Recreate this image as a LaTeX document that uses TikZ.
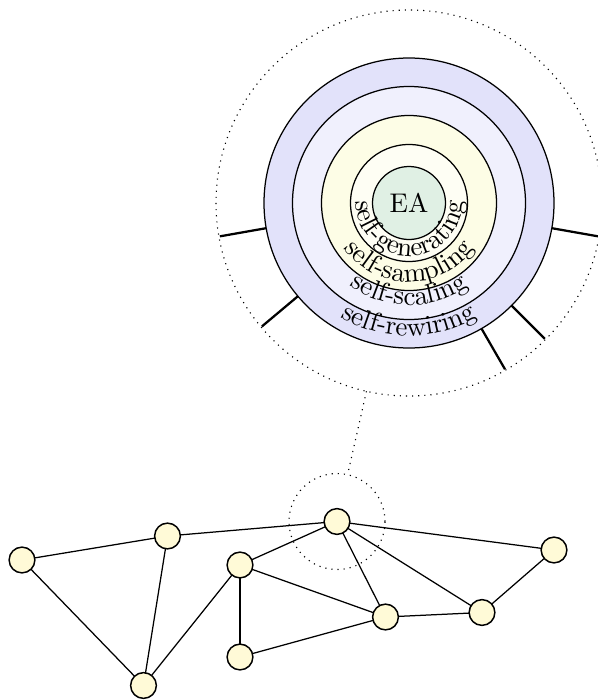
\documentclass[tikz,border=0pt]{standalone}
\usetikzlibrary{decorations.text,calc}
\definecolor{ringA}{RGB}{226,226,250}
\definecolor{ringB}{RGB}{240,240,253}
\definecolor{ringC}{RGB}{253,253,230}
\definecolor{ringD}{RGB}{254,254,244}
\definecolor{coreC}{RGB}{224,240,228}
\definecolor{nodeC}{RGB}{255,250,215}
\tikzset{
  ring/.style={circle,draw,line width=0.5pt,inner sep=0pt,outer sep=0pt},
  vertex/.style={circle,draw,line width=0.6pt,fill=nodeC,inner sep=0pt,outer sep=0pt,minimum size=10.3pt},
  edge/.style={line width=0.5pt},
  spoke/.style={line width=0.9pt},
  zoomring/.style={circle,draw,dotted,line width=0.45pt,inner sep=0pt,outer sep=0pt},
  arctext/.style={decorate,decoration={text along path,text align=center,text={#1}}}
}
\begin{document}
\fontsize{10.8pt}{13pt}\selectfont
\begin{tikzpicture}[x=0.4pt,y=0.4pt]
\useasboundingbox (0,0) rectangle (598,-700);
\coordinate (c) at (409,-203);
% zoom outline
\node[zoomring,minimum size=154.4pt] (zoom) at (c) {};
% concentric rings
\node[ring,fill=ringA,minimum size=116pt] (r5) at (c) {};
\node[ring,fill=ringB,minimum size=93.2pt] (r4) at (c) {};
\node[ring,fill=ringC,minimum size=70pt] (r3) at (c) {};
\node[ring,fill=ringD,minimum size=46.8pt] (r2) at (c) {};
\node[ring,fill=coreC,minimum size=29.2pt] (ea) at (c) {EA};
% curved labels
\path[arctext={self-generating}] (c) ++(180:53) arc[start angle=180,end angle=360,radius=53];
\path[arctext={self-sampling}] (c) ++(180:79) arc[start angle=180,end angle=360,radius=79];
\path[arctext={self-scaling}] (c) ++(180:102) arc[start angle=180,end angle=360,radius=102];
\path[arctext={self-rewiring}] (c) ++(180:133) arc[start angle=180,end angle=360,radius=133];
% spokes
\foreach \a in {190,220,300,315,350}
  \draw[spoke] (r5.\a) -- ($(c)+(\a:192)$);
% graph
\node[vertex] (A) at (22,-560) {};
\node[vertex] (B) at (167.5,-536) {};
\node[vertex] (C) at (143.5,-685.5) {};
\node[vertex] (D) at (240,-565) {};
\node[vertex] (E) at (240,-657) {};
\node[vertex] (F) at (337,-521.5) {};
\node[vertex] (G) at (385.5,-617) {};
\node[vertex] (H) at (482,-612.5) {};
\node[vertex] (I) at (554,-550) {};
\node[zoomring,minimum size=38.4pt] (focus) at (F) {};
\draw[dotted,line width=0.45pt] (zoom) -- (focus);
\foreach \u/\v in {A/B,A/C,B/C,B/F,D/C,D/F,D/E,D/G,E/G,F/G,F/H,F/I,G/H,H/I}
  \draw[edge] (\u) -- (\v);
\end{tikzpicture}
\end{document}
